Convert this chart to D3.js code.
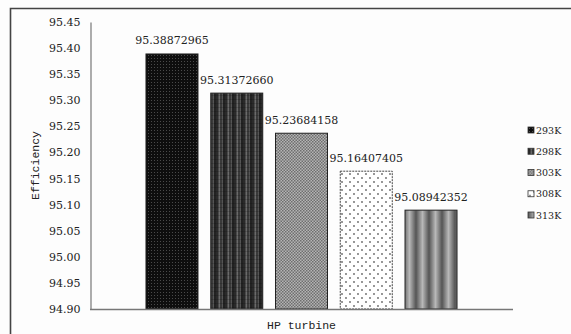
<!DOCTYPE html>
<html>
<head>
<meta charset="utf-8">
<script src="https://cdn.jsdelivr.net/npm/d3@7"></script>
<style>
  html, body { margin: 0; padding: 0; background: #ffffff; }
  svg { display: block; }
  text { font-family: "DejaVu Serif", serif; fill: #222; }
  text.mono { font-family: "Liberation Mono", "Courier New", monospace; }
</style>
</head>
<body>
<svg id="chart" width="571" height="334"></svg>
<script>
// Efficiency of the HP turbine at five temperatures
const categories = ["HP turbine"];
const series = ["293K", "298K", "303K", "308K", "313K"];
const values = [95.38872965, 95.31372660, 95.23684158, 95.16407405, 95.08942352];
const yTicks = [94.90, 94.95, 95.00, 95.05, 95.10, 95.15, 95.20, 95.25, 95.30, 95.35, 95.40, 95.45];

const svg = d3.select("#chart");
const W = 571, H = 334;
const plot = { left: 90, right: 513, top: 22, bottom: 309 };

// outer frame
svg.append("rect").attr("x", 0).attr("y", 0).attr("width", W).attr("height", H).attr("fill", "#fdfdfd");
svg.append("path")
  .attr("d", `M10.5,${H} V8.5 H${W}`)
  .attr("fill", "none").attr("stroke", "#444").attr("stroke-width", 1.6);

// fill patterns for each series
const defs = svg.append("defs");

// 293K: near-black with a fine grid of grey dots
const p1 = defs.append("pattern").attr("id", "pat0").attr("patternUnits", "userSpaceOnUse")
  .attr("width", 3).attr("height", 3);
p1.append("rect").attr("width", 3).attr("height", 3).attr("fill", "#0e0e0e");
p1.append("rect").attr("x", 1).attr("y", 1).attr("width", 1).attr("height", 1).attr("fill", "#4a4a4a");

// 298K: dark vertical stripes
const p2 = defs.append("pattern").attr("id", "pat1").attr("patternUnits", "userSpaceOnUse")
  .attr("width", 9).attr("height", 4);
[["#2a2a2a", 0, 2], ["#4a4a4a", 2, 1], ["#6a6a6a", 3, 1], ["#3a3a3a", 4, 2], ["#555", 6, 1], ["#222", 7, 2]]
  .forEach(([c, x, w]) => p2.append("rect").attr("x", x).attr("y", 0).attr("width", w).attr("height", 4).attr("fill", c));
p2.append("rect").attr("x", 0).attr("y", 3).attr("width", 9).attr("height", 1).attr("fill", "#000").attr("opacity", 0.15);

// 303K: grey checker
const p3 = defs.append("pattern").attr("id", "pat2").attr("patternUnits", "userSpaceOnUse")
  .attr("width", 3).attr("height", 3);
p3.append("rect").attr("width", 3).attr("height", 3).attr("fill", "#b4b4b4");
p3.append("rect").attr("x", 0).attr("y", 0).attr("width", 1.5).attr("height", 1.5).attr("fill", "#6e6e6e");
p3.append("rect").attr("x", 1.5).attr("y", 1.5).attr("width", 1.5).attr("height", 1.5).attr("fill", "#6e6e6e");

// 308K: white with sparse dots
const p4 = defs.append("pattern").attr("id", "pat3").attr("patternUnits", "userSpaceOnUse")
  .attr("width", 8).attr("height", 8);
p4.append("rect").attr("width", 8).attr("height", 8).attr("fill", "#fff");
p4.append("circle").attr("cx", 2).attr("cy", 2).attr("r", 0.9).attr("fill", "#666");
p4.append("circle").attr("cx", 6).attr("cy", 6).attr("r", 0.9).attr("fill", "#666");

// 313K: rounded grey vertical bands
const p5 = defs.append("pattern").attr("id", "pat4").attr("patternUnits", "userSpaceOnUse")
  .attr("width", 13).attr("height", 4);
const g5 = defs.append("linearGradient").attr("id", "grad4").attr("x1", 0).attr("x2", 1).attr("y1", 0).attr("y2", 0);
g5.append("stop").attr("offset", "0%").attr("stop-color", "#555");
g5.append("stop").attr("offset", "50%").attr("stop-color", "#b8b8b8");
g5.append("stop").attr("offset", "100%").attr("stop-color", "#555");
p5.append("rect").attr("width", 13).attr("height", 4).attr("fill", "url(#grad4)");

const fills = series.map((s, i) => `url(#pat${i})`);
const color = d3.scaleOrdinal().domain(series).range(fills);

// scales
const y = d3.scaleLinear().domain([94.90, 95.45]).range([plot.bottom, plot.top]);
const x0 = d3.scaleBand().domain(categories).range([plot.left, plot.right]).paddingInner(0).paddingOuter(0.18);
const x1 = d3.scaleBand().domain(series).range([0, x0.bandwidth()]).paddingInner(0.197).paddingOuter(0);

// y axis
const yAxis = d3.axisLeft(y).tickValues(yTicks).tickFormat(d3.format(".2f")).tickSize(0).tickPadding(10);
const gy = svg.append("g").attr("transform", `translate(${plot.left + 0.5},0)`).call(yAxis);
gy.select(".domain").attr("stroke", "#777").attr("stroke-width", 1.2);
gy.selectAll("text").attr("font-size", 11).attr("fill", "#333")
  .attr("font-family", "\"DejaVu Serif\", serif");

// bars
const rows = series.map((s, i) => ({ cat: categories[0], series: s, value: values[i] }));
const bars = svg.append("g");
bars.selectAll("rect").data(rows).join("rect")
  .attr("x", d => x0(d.cat) + x1(d.series))
  .attr("y", d => y(d.value))
  .attr("width", x1.bandwidth())
  .attr("height", d => y(94.90) - y(d.value))
  .attr("fill", d => color(d.series))
  .attr("stroke", d => d.series === "308K" ? "#444" : "#222")
  .attr("stroke-width", 1)
  .attr("stroke-dasharray", d => d.series === "308K" ? "2,1" : null);

// value labels
svg.append("g").selectAll("text").data(rows).join("text")
  .attr("x", d => x0(d.cat) + x1(d.series) + x1.bandwidth() / 2)
  .attr("y", d => y(d.value) - 9.5)
  .attr("text-anchor", "middle")
  .attr("font-size", 11)
  .attr("fill", "#222")
  .text(d => d.value.toFixed(8));

// category axis baseline
svg.append("line")
  .attr("x1", plot.left).attr("x2", plot.right)
  .attr("y1", plot.bottom + 0.5).attr("y2", plot.bottom + 0.5)
  .attr("stroke", "#777").attr("stroke-width", 1.5);

// axis titles
svg.append("text").attr("class", "mono")
  .attr("transform", `translate(39,${(plot.top + plot.bottom) / 2}) rotate(-90)`)
  .attr("text-anchor", "middle").attr("font-size", 11.5)
  .text("Efficiency");
svg.append("text").attr("class", "mono")
  .attr("x", x0(categories[0]) + x0.bandwidth() / 2).attr("y", 329)
  .attr("text-anchor", "middle").attr("font-size", 11.5)
  .text(categories[0]);

// legend
const legend = svg.append("g").attr("transform", "translate(528,130)");
const legendY = d3.scalePoint().domain(series).range([0, 85]);
const items = legend.selectAll("g").data(series).join("g")
  .attr("transform", d => `translate(0,${legendY(d)})`);
items.append("rect").attr("x", 0).attr("y", -3).attr("width", 6).attr("height", 6)
  .attr("fill", d => color(d)).attr("stroke", "#333").attr("stroke-width", 0.8);
items.append("text").attr("x", 8).attr("y", 3.5).attr("font-size", 9.5).attr("fill", "#333")
  .text(d => d);
</script>
</body>
</html>
